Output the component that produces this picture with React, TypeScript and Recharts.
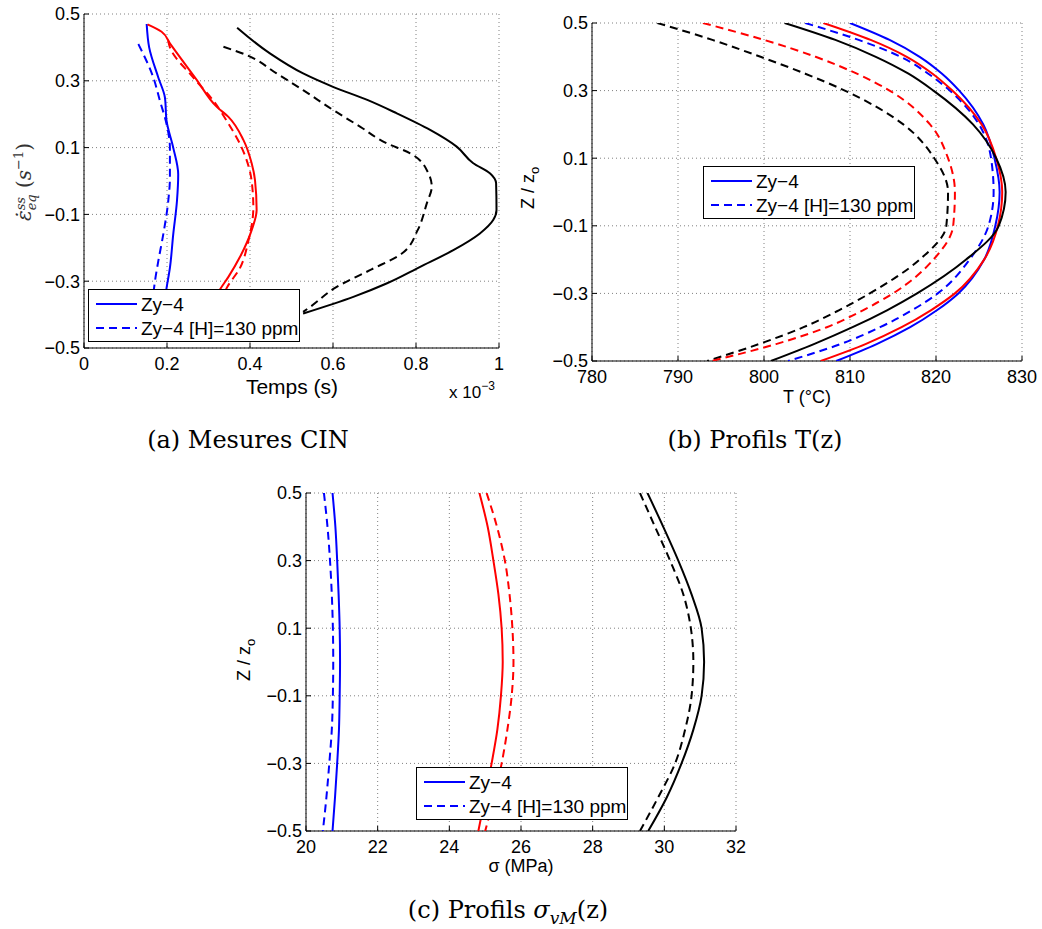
import React from "react";
import { ScatterChart, Scatter, XAxis, YAxis, CartesianGrid } from "recharts";

const BLUE = "#0000ff";
const RED = "#ff0000";
const BLACK = "#000000";
const SANS = "'Liberation Sans', Arial, Helvetica, sans-serif";
const SERIF = "'DejaVu Serif', 'Liberation Serif', serif";
const DASH = "8 5";

// shared vertical axis Z / z0
const Z_TICKS = [-0.5, -0.3, -0.1, 0.1, 0.3, 0.5];

// (a) Mesures CIN : time in units of 1e-3 s
const A_TICKS = [0, 0.2, 0.4, 0.6, 0.8, 1];
const A_BLUE_Z = [0.47, 0.4, 0.31, 0.25, 0.18, 0.1, 0.02, -0.06, -0.16, -0.26, -0.32, -0.4];
const A_BLUE_T = [0.151, 0.157, 0.179, 0.195, 0.199, 0.215, 0.227, 0.224, 0.215, 0.207, 0.199, 0.19];
const A_BLUE_H_Z = [0.41, 0.31, 0.24, 0.17, 0.1, 0.01, -0.06, -0.16, -0.24, -0.3, -0.36];
const A_BLUE_H_T = [0.131, 0.167, 0.183, 0.199, 0.207, 0.207, 0.203, 0.191, 0.179, 0.171, 0.165];
const A_RED_Z = [0.469, 0.447, 0.412, 0.302, 0.222, 0.192, 0.123, 0.053, 0.003, -0.087, -0.147, -0.227, -0.287, -0.324, -0.37];
const A_RED_T = [0.153, 0.187, 0.207, 0.272, 0.32, 0.348, 0.384, 0.404, 0.412, 0.416, 0.404, 0.376, 0.348, 0.328, 0.31];
const A_RED_H_Z = [0.42, 0.4, 0.31, 0.24, 0.18, 0.1, 0.0, -0.08, -0.18, -0.26, -0.32, -0.36];
const A_RED_H_T = [0.203, 0.207, 0.263, 0.312, 0.344, 0.38, 0.404, 0.408, 0.396, 0.376, 0.344, 0.33];
const A_BLACK_Z = [0.459, 0.382, 0.322, 0.282, 0.242, 0.203, 0.153, 0.103, 0.053, 0.023, -0.007, -0.087, -0.117, -0.157, -0.207, -0.257, -0.307, -0.347, -0.397];
const A_BLACK_T = [0.369, 0.448, 0.528, 0.6, 0.684, 0.753, 0.834, 0.898, 0.938, 0.978, 0.993, 0.994, 0.986, 0.954, 0.89, 0.81, 0.729, 0.649, 0.528];
const A_BLACK_H_Z = [0.402, 0.377, 0.322, 0.272, 0.212, 0.163, 0.113, 0.083, 0.023, -0.017, -0.067, -0.147, -0.217, -0.267, -0.317, -0.377, -0.392];
const A_BLACK_H_T = [0.336, 0.392, 0.464, 0.528, 0.601, 0.665, 0.729, 0.786, 0.83, 0.838, 0.826, 0.804, 0.766, 0.689, 0.609, 0.545, 0.528];

// (b) Profils T(z), °C
const B_TICKS = [780, 790, 800, 810, 820, 830];
const B_Z = [0.5, 0.45, 0.4, 0.35, 0.3, 0.2, 0.1, 0, -0.1, -0.2, -0.3, -0.35, -0.4, -0.45, -0.5];
const B_BLUE = [810.0, 814.6, 818.1, 820.7, 822.7, 825.5, 826.8, 827.4, 826.9, 825.6, 822.6, 820.1, 817.0, 813.1, 808.4];
const B_BLUE_H = [804.8, 811.0, 815.9, 819.1, 821.6, 825.0, 826.4, 826.7, 826.1, 823.9, 820.2, 817.2, 813.5, 808.9, 802.8];
const B_RED = [806.9, 812.4, 816.6, 819.6, 821.9, 825.3, 827.0, 827.7, 827.2, 825.6, 822.2, 819.4, 816.0, 811.8, 806.6];
const B_RED_H = [792.9, 800.0, 806.0, 810.8, 814.6, 819.3, 821.4, 822.2, 822.0, 819.7, 815.0, 811.5, 807.3, 801.4, 793.9];
const B_BLACK = [802.4, 808.3, 813.0, 816.8, 819.7, 824.3, 827.0, 828.1, 827.3, 823.5, 817.8, 814.3, 810.3, 805.8, 800.8];
const B_BLACK_H = [787.6, 794.0, 799.6, 804.8, 809.4, 816.2, 819.8, 821.4, 821.2, 818.1, 812.3, 808.7, 804.6, 799.4, 793.4];

// (c) Profils sigma_vM(z), MPa
const C_TICKS = [20, 22, 24, 26, 28, 30, 32];
const C_Z = [0.5, 0.4, 0.3, 0.2, 0.1, 0, -0.1, -0.2, -0.3, -0.4, -0.5];
const C_BLUE = [20.74, 20.82, 20.87, 20.91, 20.94, 20.95, 20.94, 20.92, 20.87, 20.81, 20.74];
const C_BLUE_H = [20.5, 20.6, 20.67, 20.72, 20.75, 20.76, 20.75, 20.72, 20.65, 20.57, 20.47];
const C_RED = [24.84, 25.07, 25.23, 25.37, 25.46, 25.49, 25.44, 25.34, 25.18, 25.0, 24.81];
const C_RED_H = [25.04, 25.33, 25.55, 25.68, 25.76, 25.79, 25.74, 25.62, 25.46, 25.25, 25.0];
const C_BLACK = [29.53, 29.97, 30.39, 30.76, 31.04, 31.11, 31.04, 30.81, 30.48, 30.07, 29.55];
const C_BLACK_H = [29.32, 29.74, 30.16, 30.53, 30.74, 30.81, 30.76, 30.58, 30.3, 29.83, 29.32];

type Pt = { x: number; y: number };
type Series = { data: Pt[]; color: string; dashed?: boolean };

const pts = (zs: number[], xs: number[]): Pt[] => zs.map((z, i) => ({ x: xs[i], y: z }));

const fmtZ = (v: number) => (v < 0 ? "\u2212" : "") + Math.abs(v).toFixed(1);

const tickStyle = { fontSize: 18, fill: "#000", fontFamily: SANS };

function Panel(props: {
  left: number;
  top: number;
  width: number;
  height: number;
  margin: { top: number; right: number; bottom: number; left: number };
  xDomain: [number, number];
  xTicks: number[];
  series: Series[];
}) {
  const { left, top, width, height, margin, xDomain, xTicks, series } = props;
  return (
    <div style={{ position: "absolute", left, top }}>
      <ScatterChart width={width} height={height} margin={margin}>
        <CartesianGrid stroke="#808080" strokeDasharray="1 3" />
        <XAxis
          type="number"
          dataKey="x"
          domain={xDomain}
          ticks={xTicks}
          interval={0}
          allowDataOverflow
          height={30}
          tick={tickStyle}
          tickFormatter={(v: number) => String(v)}
          tickSize={-5}
          tickMargin={14}
          axisLine={{ stroke: "#000" }}
          tickLine={{ stroke: "#000" }}
        />
        <YAxis
          type="number"
          dataKey="y"
          domain={[-0.5, 0.5]}
          ticks={Z_TICKS}
          interval={0}
          allowDataOverflow
          width={60}
          tick={tickStyle}
          tickFormatter={fmtZ}
          tickSize={-5}
          tickMargin={9}
          axisLine={{ stroke: "#000" }}
          tickLine={{ stroke: "#000" }}
        />
        <XAxis
          xAxisId="top"
          orientation="top"
          type="number"
          domain={xDomain}
          ticks={xTicks}
          interval={0}
          allowDataOverflow
          height={0}
          tick={false}
          tickSize={-5}
          axisLine={{ stroke: "#000" }}
          tickLine={{ stroke: "#000" }}
        />
        <YAxis
          yAxisId="right"
          orientation="right"
          type="number"
          domain={[-0.5, 0.5]}
          ticks={Z_TICKS}
          interval={0}
          allowDataOverflow
          width={0}
          tick={false}
          tickSize={-5}
          axisLine={{ stroke: "#000" }}
          tickLine={{ stroke: "#000" }}
        />
        {series.map((s, i) => (
          <Scatter
            key={i}
            data={s.data}
            isAnimationActive={false}
            shape={() => <g />}
            lineJointType="monotoneY"
            line={{
              stroke: s.color,
              strokeWidth: 2,
              strokeDasharray: s.dashed ? DASH : undefined,
            }}
          />
        ))}
      </ScatterChart>
    </div>
  );
}

function LegendBox({ left, top }: { left: number; top: number }) {
  return (
    <div
      style={{
        position: "absolute",
        left,
        top,
        width: 212,
        height: 53,
        background: "#fff",
        border: "1px solid #000",
        boxSizing: "border-box",
      }}
    >
      <svg width={212} height={53} style={{ position: "absolute", left: -1, top: -1 }}>
        <line x1={8} x2={49} y1={15} y2={15} stroke={BLUE} strokeWidth={2} />
        <line x1={8} x2={49} y1={39} y2={39} stroke={BLUE} strokeWidth={2} strokeDasharray={DASH} />
        <text x={53} y={15} dominantBaseline="central" fontFamily={SANS} fontSize={19}>
          Zy−4
        </text>
        <text x={53} y={39} dominantBaseline="central" fontFamily={SANS} fontSize={19}>
          Zy−4 [H]=130 ppm
        </text>
      </svg>
    </div>
  );
}

function Label(props: { x: number; y: number; rotate?: boolean; style?: React.CSSProperties; children: React.ReactNode }) {
  return (
    <div
      style={{
        position: "absolute",
        left: props.x,
        top: props.y,
        transform: `translate(-50%, -50%)${props.rotate ? " rotate(-90deg)" : ""}`,
        whiteSpace: "nowrap",
        fontFamily: SANS,
        fontSize: 18,
        color: "#000",
        lineHeight: 1,
        ...props.style,
      }}
    >
      {props.children}
    </div>
  );
}

export default function App() {
  const seriesA: Series[] = [
    { data: pts(A_BLUE_Z, A_BLUE_T), color: BLUE },
    { data: pts(A_BLUE_H_Z, A_BLUE_H_T), color: BLUE, dashed: true },
    { data: pts(A_RED_Z, A_RED_T), color: RED },
    { data: pts(A_RED_H_Z, A_RED_H_T), color: RED, dashed: true },
    { data: pts(A_BLACK_Z, A_BLACK_T), color: BLACK },
    { data: pts(A_BLACK_H_Z, A_BLACK_H_T), color: BLACK, dashed: true },
  ];
  const seriesB: Series[] = [
    { data: pts(B_Z, B_BLACK_H), color: BLACK, dashed: true },
    { data: pts(B_Z, B_RED_H), color: RED, dashed: true },
    { data: pts(B_Z, B_BLUE_H), color: BLUE, dashed: true },
    { data: pts(B_Z, B_BLUE), color: BLUE },
    { data: pts(B_Z, B_RED), color: RED },
    { data: pts(B_Z, B_BLACK), color: BLACK },
  ];
  const seriesC: Series[] = [
    { data: pts(C_Z, C_BLUE), color: BLUE },
    { data: pts(C_Z, C_BLUE_H), color: BLUE, dashed: true },
    { data: pts(C_Z, C_RED), color: RED },
    { data: pts(C_Z, C_RED_H), color: RED, dashed: true },
    { data: pts(C_Z, C_BLACK), color: BLACK },
    { data: pts(C_Z, C_BLACK_H), color: BLACK, dashed: true },
  ];

  return (
    <div style={{ position: "absolute", left: 0, top: 0, width: 1042, height: 929, background: "#fff", overflow: "hidden" }}>
      <Panel
        left={0}
        top={0}
        width={520}
        height={420}
        margin={{ top: 14, right: 21, bottom: 42, left: 24 }}
        xDomain={[0, 1]}
        xTicks={A_TICKS}
        series={seriesA}
      />
      <Panel
        left={520}
        top={0}
        width={522}
        height={420}
        margin={{ top: 23, right: 20, bottom: 29, left: 12 }}
        xDomain={[780, 830]}
        xTicks={B_TICKS}
        series={seriesB}
      />
      <Panel
        left={200}
        top={470}
        width={560}
        height={420}
        margin={{ top: 23, right: 24, bottom: 29, left: 46 }}
        xDomain={[20, 32]}
        xTicks={C_TICKS}
        series={seriesC}
      />

      <LegendBox left={88} top={289} />
      <LegendBox left={703} top={166} />
      <LegendBox left={416} top={767} />

      {/* axis titles (a) */}
      <Label x={292} y={386} style={{ fontSize: 21 }}>Temps (s)</Label>
      <div style={{ position: "absolute", left: 449, top: 384, fontFamily: SANS, fontSize: 17, lineHeight: 1 }}>
        x 10<span style={{ position: "relative", top: -8, fontSize: 12 }}>−3</span>
      </div>
      <Label x={25} y={182} rotate style={{ fontFamily: SERIF, fontSize: 20, color: "#333" }}>
        <i>ε̇</i>
        <span
          style={{
            display: "inline-flex",
            flexDirection: "column",
            fontSize: 13,
            lineHeight: "11px",
            verticalAlign: "middle",
            fontStyle: "italic",
          }}
        >
          <span>ss</span>
          <span>eq</span>
        </span>
        {" "}(<i>s</i>
        <span style={{ position: "relative", top: -8, fontSize: 13 }}>−1</span>)
      </Label>

      {/* axis titles (b) */}
      <Label x={807} y={397}>T (°C)</Label>
      <Label x={528} y={188} rotate>
        Z / z<span style={{ position: "relative", top: 5, fontSize: 13 }}>o</span>
      </Label>

      {/* axis titles (c) */}
      <Label x={521} y={866}>σ (MPa)</Label>
      <Label x={244} y={660} rotate>
        Z / z<span style={{ position: "relative", top: 5, fontSize: 13 }}>o</span>
      </Label>

      {/* captions */}
      <Label x={248} y={440} style={{ fontFamily: SERIF, fontSize: 24 }}>(a) Mesures CIN</Label>
      <Label x={755} y={440} style={{ fontFamily: SERIF, fontSize: 24 }}>(b) Profils T(z)</Label>
      <Label x={508} y={910} style={{ fontFamily: SERIF, fontSize: 24 }}>
        (c) Profils <i>σ</i>
        <span style={{ position: "relative", top: 6, fontSize: 17, fontStyle: "italic" }}>vM</span>(z)
      </Label>
    </div>
  );
}
